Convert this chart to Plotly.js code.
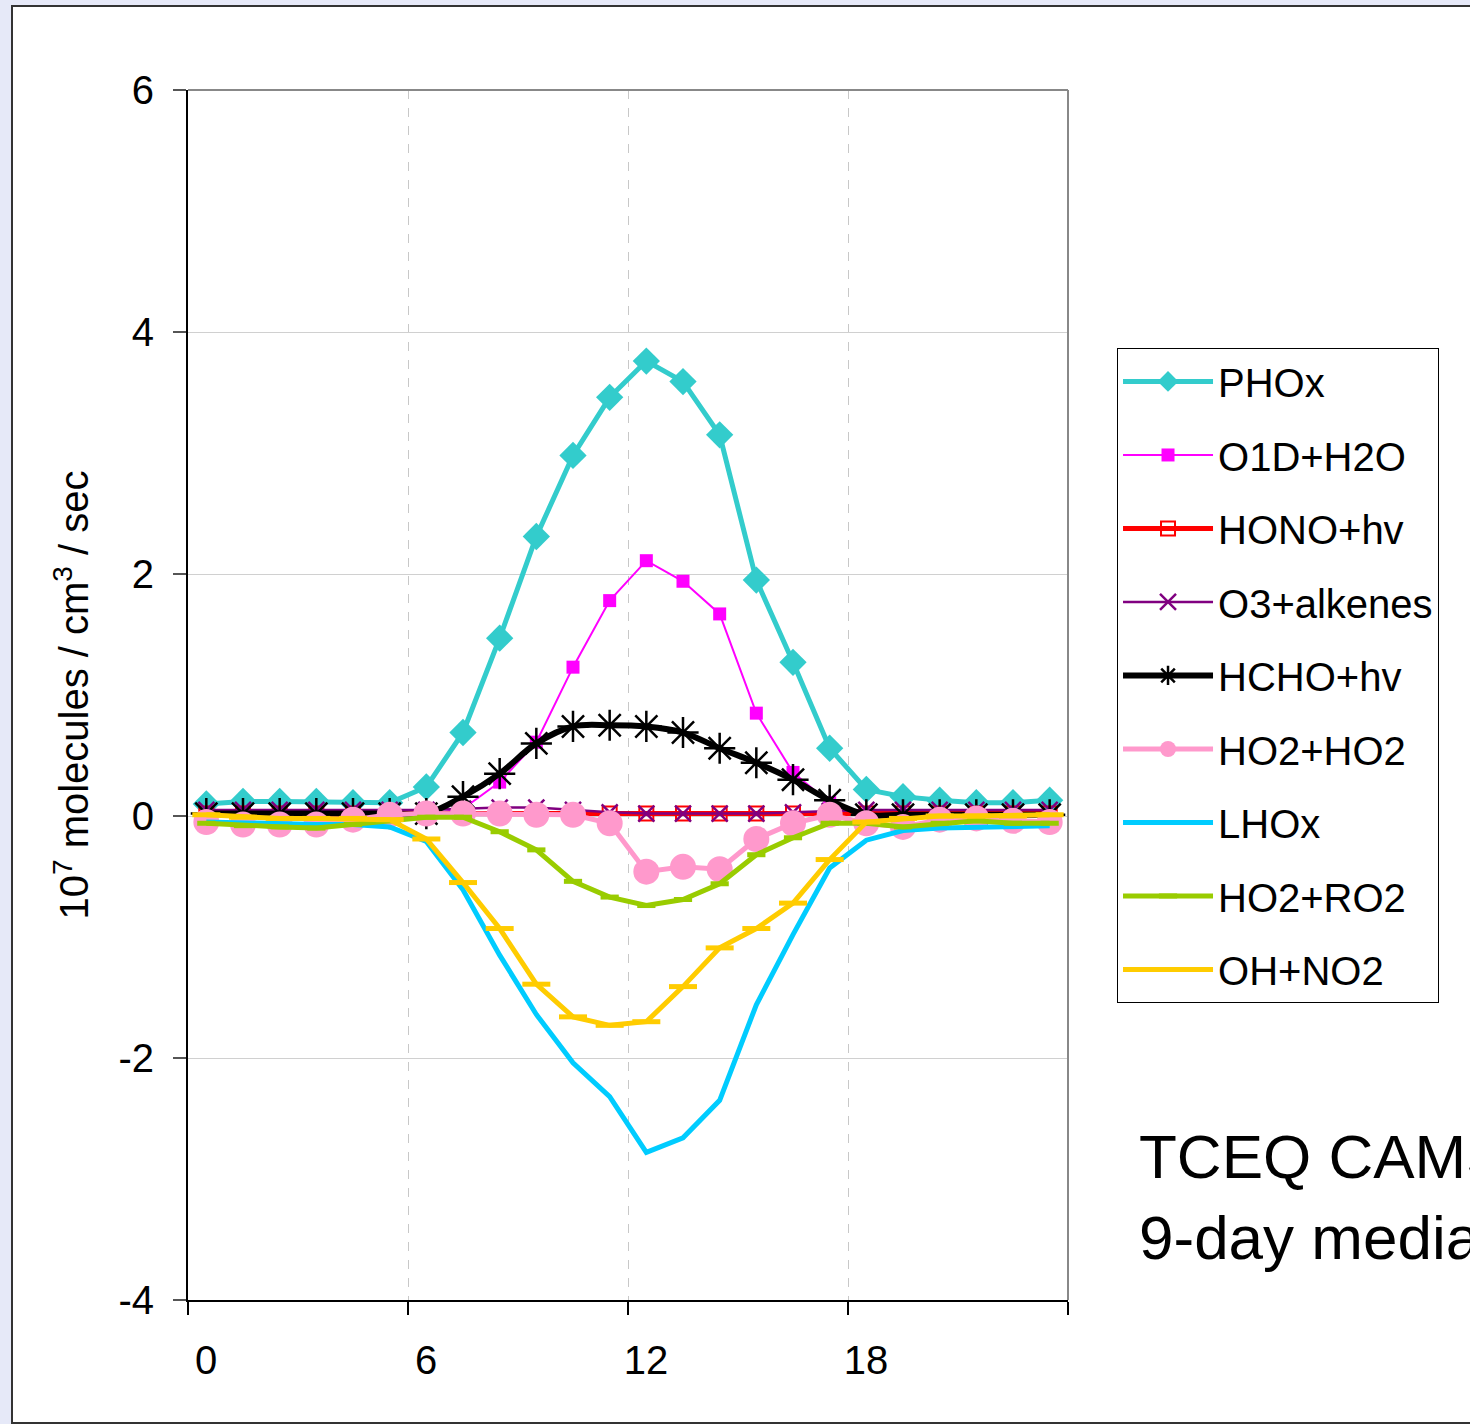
<!DOCTYPE html>
<html>
<head>
<meta charset="utf-8">
<script src="https://cdn.plot.ly/plotly-3.0.1.min.js"></script>
<style>
html,body{margin:0;padding:0;width:1470px;height:1424px;overflow:hidden;background:#E6E9F8;}
#frame{position:absolute;left:11px;top:5px;width:1470px;height:1415px;border:2px solid #333;background:#fff;}
#chart{position:absolute;left:0;top:0;width:1470px;height:1424px;}
</style>
</head>
<body>
<div id="frame"></div>
<div id="chart"></div>
<script>
const hours = [0,1,2,3,4,5,6,7,8,9,10,11,12,13,14,15,16,17,18,19,20,21,22,23];
const xTickVals = [-0.5,5.5,11.5,17.5,23.5];
const xTickText = ['0','6','12','18',''];
const yTickVals = [-4,-2,0,2,4,6];
const yTickText = ['-4','-2','0','2','4','6'];

const phox      = [0.10,0.12,0.12,0.12,0.11,0.11,0.24,0.69,1.47,2.31,2.98,3.46,3.76,3.59,3.15,1.95,1.27,0.56,0.22,0.16,0.13,0.11,0.11,0.13];
const o1dH2o    = [0.00,0.00,0.00,0.00,0.00,0.00,0.01,0.06,0.28,0.61,1.23,1.78,2.11,1.94,1.67,0.85,0.36,0.11,0.01,0.00,0.00,0.00,0.00,0.00];
const honoHv    = [0.02,0.02,0.02,0.02,0.02,0.02,0.02,0.02,0.02,0.02,0.02,0.02,0.02,0.02,0.02,0.02,0.02,0.02,0.02,0.02,0.02,0.02,0.02,0.02];
const o3Alkenes = [0.05,0.05,0.05,0.05,0.05,0.05,0.05,0.06,0.07,0.07,0.05,0.03,0.02,0.02,0.02,0.02,0.03,0.04,0.05,0.05,0.05,0.05,0.05,0.05];
const hchoHv    = [0.02,0.02,0.02,0.02,0.02,0.02,0.02,0.16,0.35,0.60,0.74,0.75,0.74,0.69,0.56,0.44,0.30,0.13,0.01,0.01,0.01,0.01,0.01,0.01];
const ho2Ho2    = [-0.05,-0.07,-0.07,-0.07,-0.03,0.01,0.02,0.02,0.02,0.01,0.01,-0.06,-0.46,-0.42,-0.44,-0.19,-0.06,0.01,-0.06,-0.09,-0.03,-0.02,-0.04,-0.05];
const lhox      = [-0.05,-0.06,-0.06,-0.07,-0.07,-0.09,-0.21,-0.61,-1.15,-1.64,-2.04,-2.32,-2.78,-2.66,-2.35,-1.56,-0.98,-0.43,-0.20,-0.12,-0.10,-0.09,-0.09,-0.08];
const ho2Ro2    = [-0.06,-0.08,-0.09,-0.10,-0.07,-0.04,-0.01,-0.01,-0.13,-0.28,-0.54,-0.67,-0.74,-0.69,-0.56,-0.32,-0.18,-0.06,-0.06,-0.09,-0.06,-0.04,-0.06,-0.06];
const ohNo2     = [0.01,-0.01,-0.02,-0.02,-0.02,-0.03,-0.19,-0.55,-0.93,-1.39,-1.66,-1.73,-1.70,-1.41,-1.09,-0.93,-0.72,-0.36,-0.05,-0.02,0.00,0.00,0.00,0.01];

const yTitle = '10<sup>7</sup> molecules / cm<sup>3</sup> / sec';
const noteText = 'TCEQ CAMS<br>9-day median';

function tr(name, y, color, lw, sym, msize, extra){
  const t = {
    x: hours, y: y, name: name, type: 'scatter',
    mode: sym ? 'lines+markers' : 'lines',
    line: {color: color, width: lw},
    legendgroup: name
  };
  if (sym) t.marker = Object.assign({symbol: sym, size: msize, color: color}, extra || {});
  return t;
}

const hcho = tr('HCHO+hv', hchoHv, '#000000', 6, 'asterisk-open', 26, {line:{color:'#000000', width:2.5}});
hcho.line.shape = 'spline';

const data = [
  tr('PHOx', phox, '#33CCCC', 5, 'diamond', 21),
  tr('O1D+H2O', o1dH2o, '#FF00FF', 2, 'square', 13),
  tr('HONO+hv', honoHv, '#FF0000', 5, 'square-open', 14, {line:{color:'#FF0000', width:2}}),
  tr('O3+alkenes', o3Alkenes, '#800080', 2.5, 'x-thin-open', 16, {line:{color:'#800080', width:2.5}}),
  hcho,
  tr('HO2+HO2', ho2Ho2, '#FF99CC', 5, 'circle', 26),
  tr('LHOx', lhox, '#00CCFF', 5, null),
  tr('HO2+RO2', ho2Ro2, '#99CC00', 5, 'line-ew-open', 13, {line:{color:'#99CC00', width:5}}),
  tr('OH+NO2', ohNo2, '#FFCC00', 5, 'line-ew-open', 20, {line:{color:'#FFCC00', width:5}})
];

const layout = {
  width: 1470, height: 1424,
  margin: {l: 188, r: 402, t: 90, b: 124},
  paper_bgcolor: 'rgba(0,0,0,0)',
  plot_bgcolor: '#ffffff',
  font: {family: 'Liberation Sans, Arial, sans-serif', size: 40, color: '#000'},
  showlegend: true,
  legend: {
    x: 1.0557, y: 0.7868, xanchor: 'left', yanchor: 'top',
    bgcolor: '#ffffff', bordercolor: '#000', borderwidth: 1,
    font: {size: 40, color: '#000'},
    traceorder: 'grouped', tracegroupgap: 18.5, itemwidth: 90
  },
  xaxis: {
    range: [-0.5, 23.5], tickmode: 'array', tickvals: xTickVals, ticktext: xTickText,
    ticklabelshift: 18, ticks: 'outside', ticklen: 13, tickcolor: '#000', tickwidth: 1.5,
    showline: true, linecolor: '#000', linewidth: 2,
    showgrid: true, gridcolor: '#C8C8C8', griddash: 'dash', gridwidth: 1,
    zeroline: false, tickfont: {size: 40}, ticklabelstandoff: 11
  },
  yaxis: {
    range: [-4, 6], tickmode: 'array', tickvals: yTickVals, ticktext: yTickText,
    ticks: 'outside', ticklen: 13, tickcolor: '#555', tickwidth: 1.5,
    showline: true, linecolor: '#000', linewidth: 2,
    showgrid: true, gridcolor: '#D0D0D0', gridwidth: 1,
    zeroline: false, tickfont: {size: 40}, ticklabelstandoff: 11,
    title: {text: yTitle, font: {size: 40}, standoff: 17}
  },
  shapes: [
    {type: 'line', xref: 'paper', yref: 'paper', x0: 0, x1: 1, y0: 1, y1: 1, line: {color: '#888', width: 2}, layer: 'above'},
    {type: 'line', xref: 'paper', yref: 'paper', x0: 1, x1: 1, y0: 0, y1: 1, line: {color: '#888', width: 2}, layer: 'above'}
  ],
  annotations: [
    {text: noteText, xref: 'paper', yref: 'paper', x: 1.078, y: 0.1487, xanchor: 'left', yanchor: 'top',
     align: 'left', showarrow: false, font: {size: 62, color: '#000'}}
  ]
};

Plotly.newPlot('chart', data, layout, {staticPlot: true});
</script>
</body>
</html>
